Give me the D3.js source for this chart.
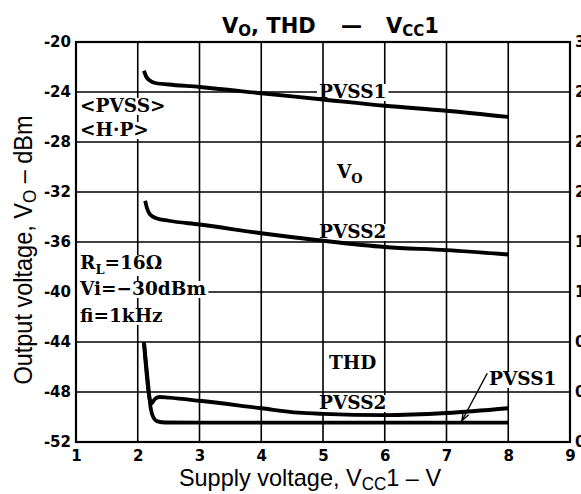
<!DOCTYPE html>
<html><head><meta charset="utf-8">
<script src="https://cdn.jsdelivr.net/npm/d3@7"></script>
<style>body{margin:0;background:#fff}svg{display:block}</style>
</head><body>
<svg id="chart" width="581" height="494"></svg>
<script>
// Axis ticks
const vccTicks = [1, 2, 3, 4, 5, 6, 7, 8, 9];
const voTicks = [-20, -24, -28, -32, -36, -40, -44, -48, -52];
const thdTicks = [3.2, 2.8, 2.4, 2.0, 1.6, 1.2, 0.8, 0.4, 0];

// Output voltage (dBm) vs supply voltage
const voPvss1Vcc = [2.1, 2.14, 2.2, 2.3, 2.5, 3, 4, 5, 6, 7, 8];
const voPvss1 = [-22.3, -22.8, -23.1, -23.3, -23.4, -23.6, -24.1, -24.6, -25.1, -25.5, -26.0];
const voPvss2Vcc = [2.12, 2.15, 2.2, 2.3, 2.5, 3, 4, 5, 6, 7, 8];
const voPvss2 = [-32.7, -33.3, -33.8, -34.1, -34.3, -34.6, -35.3, -35.9, -36.4, -36.65, -37.0];

// THD (%) vs supply voltage
const thdPvss2Vcc = [2.1, 2.2, 2.23, 2.27, 2.35, 2.5, 3, 4, 4.6, 5, 6, 7, 8];
const thdPvss2 = [0.8, 0.33, 0.31, 0.34, 0.36, 0.355, 0.33, 0.27, 0.235, 0.225, 0.215, 0.232, 0.27];
const thdPvss1Vcc = [2.1, 2.17, 2.21, 2.25, 2.32, 2.45, 3, 4, 5, 6, 7, 8];
const thdPvss1 = [0.8, 0.45, 0.27, 0.2, 0.165, 0.156, 0.155, 0.155, 0.155, 0.155, 0.155, 0.155];

const svg = d3.select("#chart");
const plotL = 76, plotR = 570, plotT = 42, plotB = 442;

const x = d3.scaleLinear().domain([1, 9]).range([plotL, plotR]);
const yVo = d3.scaleLinear().domain([-52, -20]).range([plotB, plotT]);
const yThd = d3.scaleLinear().domain([0, 3.2]).range([plotB, plotT]);

const tickFont = "DejaVu Sans, sans-serif";
const serif = "DejaVu Serif, serif";
const sans = "Liberation Sans, Arial, sans-serif";

// grid lines
const grid = svg.append("g").attr("stroke", "#000").attr("stroke-width", 1.6);
grid.selectAll("line.v").data(vccTicks.slice(1, -1)).join("line").attr("class", "v")
  .attr("x1", d => x(d)).attr("x2", d => x(d)).attr("y1", plotT).attr("y2", plotB);
grid.selectAll("line.h").data(voTicks.slice(1, -1)).join("line").attr("class", "h")
  .attr("x1", plotL).attr("x2", plotR).attr("y1", d => yVo(d)).attr("y2", d => yVo(d));

// axes (labels only; the grid carries the lines)
function styleAxis(g) {
  g.select(".domain").remove();
  g.selectAll(".tick line").remove();
  g.selectAll("text").attr("font-family", tickFont).attr("font-weight", "bold")
    .attr("font-size", 15).attr("fill", "#000");
}
svg.append("g").attr("transform", `translate(${plotL},0)`)
  .call(d3.axisLeft(yVo).tickValues(voTicks).tickFormat(d => String(d)).tickSize(0).tickPadding(5))
  .call(styleAxis);
svg.append("g").attr("transform", `translate(0,${plotB})`)
  .call(d3.axisBottom(x).tickValues(vccTicks).tickFormat(d3.format("d")).tickSize(0).tickPadding(8))
  .call(styleAxis);
svg.append("g").attr("transform", `translate(${plotR},0)`)
  .call(d3.axisRight(yThd).tickValues(thdTicks).tickFormat(d3.format(".1f")).tickSize(0).tickPadding(5))
  .call(styleAxis);

// layers: white label backings interrupt the grid, then frame, curves and text
const bgLayer = svg.append("g");
const frameLayer = svg.append("g");
const curveLayer = svg.append("g");
const textLayer = svg.append("g");

frameLayer.append("rect").attr("x", plotL).attr("y", plotT).attr("width", plotR - plotL).attr("height", plotB - plotT)
  .attr("fill", "none").attr("stroke", "#000").attr("stroke-width", 2.2);

function label(px, py, parts, size) {
  const fs = size || 18.5;
  const t = textLayer.append("text").attr("x", px).attr("y", py)
    .attr("font-family", serif).attr("font-weight", "bold").attr("font-size", fs).attr("fill", "#000");
  parts.forEach(p => {
    const s = t.append("tspan").text(p.t);
    if (p.sub) s.attr("font-size", fs * 0.7).attr("dy", 5);
    if (p.up) s.attr("dy", -5);
  });
  const b = t.node().getBBox();
  bgLayer.append("rect").attr("x", b.x - 2).attr("y", b.y + 3).attr("width", b.width + 4).attr("height", b.height - 4)
    .attr("fill", "#fff");
  return t;
}

label(80, 112, [{t: "<PVSS>"}]);
label(80, 136, [{t: "<H·P>"}]);
label(319, 98, [{t: "PVSS1"}]);
label(337, 178, [{t: "V"}, {t: "O", sub: true}]);
label(319, 238, [{t: "PVSS2"}]);
label(80, 269, [{t: "R"}, {t: "L", sub: true}, {t: "=16Ω", up: true}]);
label(80, 295, [{t: "Vi=−30dBm"}]);
label(80, 322, [{t: "fi=1kHz"}]);
label(329, 369, [{t: "THD"}]);
label(319, 409, [{t: "PVSS2"}]);
label(489, 385, [{t: "PVSS1"}]);

// curves
const lineVo = d3.line().x(d => x(d[0])).y(d => yVo(d[1])).curve(d3.curveMonotoneX);
const lineThd = d3.line().x(d => x(d[0])).y(d => yThd(d[1])).curve(d3.curveMonotoneX);
const curves = [
  {gen: lineVo, pts: d3.zip(voPvss1Vcc, voPvss1)},
  {gen: lineVo, pts: d3.zip(voPvss2Vcc, voPvss2)},
  {gen: lineThd, pts: d3.zip(thdPvss2Vcc, thdPvss2)},
  {gen: lineThd, pts: d3.zip(thdPvss1Vcc, thdPvss1)}
];
curveLayer.selectAll("path").data(curves).join("path")
  .attr("d", c => c.gen(c.pts))
  .attr("fill", "none").attr("stroke", "#000").attr("stroke-width", 3.8)
  .attr("stroke-linecap", "butt").attr("stroke-linejoin", "round");

// leader arrow to the PVSS1 distortion line
const ax1 = x(7.66), ay1 = yThd(0.55), ax2 = x(7.25), ay2 = yThd(0.17);
curveLayer.append("line").attr("x1", ax1).attr("y1", ay1).attr("x2", ax2).attr("y2", ay2)
  .attr("stroke", "#000").attr("stroke-width", 1.4);
const ang = Math.atan2(ay2 - ay1, ax2 - ax1);
const ah = 9, spread = 0.35;
curveLayer.append("path")
  .attr("d", `M${ax2 - ah * Math.cos(ang - spread)},${ay2 - ah * Math.sin(ang - spread)}L${ax2},${ay2}L${ax2 - ah * Math.cos(ang + spread)},${ay2 - ah * Math.sin(ang + spread)}`)
  .attr("fill", "none").attr("stroke", "#000").attr("stroke-width", 1.4);

// title
const title = svg.append("text").attr("y", 33)
  .attr("font-family", "DejaVu Sans, sans-serif").attr("font-weight", "bold").attr("font-size", 21);
title.append("tspan").attr("x", 222).text("V");
title.append("tspan").text("O").attr("font-size", 15).attr("dy", 3);
title.append("tspan").text(", THD").attr("dy", -3);
title.append("tspan").attr("x", 341).text("—");
title.append("tspan").attr("x", 386).text("V");
title.append("tspan").text("CC").attr("font-size", 15).attr("dy", 3);
title.append("tspan").text("1").attr("dy", -3);

// axis titles
const xt = svg.append("text").attr("transform", "translate(310,486) scale(1,1.04)").attr("text-anchor", "middle")
  .attr("font-family", sans).attr("font-size", 23.5);
xt.append("tspan").text("Supply voltage, V");
xt.append("tspan").text("CC").attr("font-size", 17).attr("dy", 4);
xt.append("tspan").text("1 – V").attr("dy", -4);

const yt = svg.append("text").attr("transform", "translate(32,250) rotate(-90) scale(1,1.12)").attr("text-anchor", "middle")
  .attr("font-family", sans).attr("font-size", 23.5);
yt.append("tspan").text("Output voltage, V");
yt.append("tspan").text("O").attr("font-size", 17).attr("dy", 4);
yt.append("tspan").text(" – dBm").attr("dy", -4);
</script>
</body></html>
